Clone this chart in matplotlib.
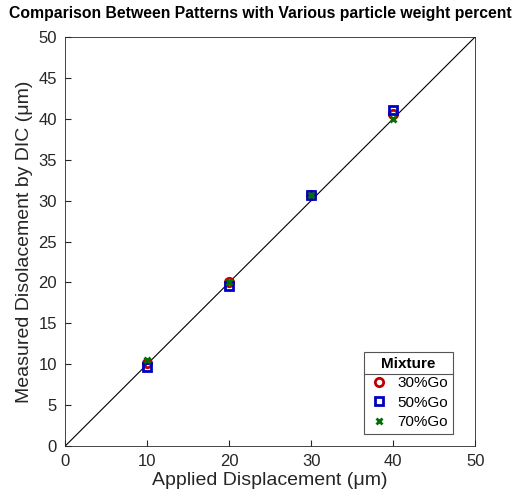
import matplotlib.pyplot as plt
from matplotlib.lines import Line2D
import numpy as np

plt.rcParams['font.family'] = ['Liberation Sans', 'DejaVu Sans']

applied = [10, 20, 30, 40]
go30 = [10.1, 20.1, 30.7, 40.6]
go50 = [9.7, 19.6, 30.7, 41.1]
go70 = [10.5, 20.0, 30.7, 40.0]
ref_line = [0, 50]

fig = plt.figure(figsize=(5.21, 4.99), dpi=100)
ax = fig.add_axes([0.125, 0.106, 0.787, 0.82])

ax.plot(ref_line, ref_line, color='black', linewidth=0.8, zorder=1)
ax.plot(applied, go30, 'o', mfc='none', mec='#c00000', mew=2, ms=6, label='30%Go', zorder=3)
ax.plot(applied, go50, 's', mfc='none', mec='#0000c0', mew=2, ms=5.5, label='50%Go', zorder=3)
ax.plot(applied, go70, 'x', color='#007000', mew=2, ms=5, label='70%Go', zorder=3)

ax.set_xlim(0, 50)
ax.set_ylim(0, 50)
ax.set_xticks(np.arange(0, 51, 10))
ax.set_yticks(np.arange(0, 51, 5))
ax.tick_params(direction='in', labelsize=12, colors='#262626', length=4, pad=6)
for s in ax.spines.values():
    s.set_color('#262626')
    s.set_linewidth(0.6)

ax.set_xlabel('Applied Displacement (μm)', fontsize=14, color='#262626', labelpad=2)
ax.set_ylabel('Measured Disolacement by DIC (μm)', fontsize=14, color='#262626', labelpad=4)
fig.text(0.499, 0.972, 'Comparison Between Patterns with Various particle weight percent',
         fontsize=11.3, fontweight='bold', ha='center', va='center')

leg = ax.legend(loc='lower right', title='Mixture', fontsize=11, fancybox=False,
                edgecolor='#555555', framealpha=1, handletextpad=0.5,
                handlelength=1.3, borderaxespad=0, borderpad=0.35,
                labelspacing=0.35, bbox_to_anchor=(0.946, 0.029))
leg.get_title().set_fontweight('bold')
leg.get_title().set_fontsize(11)
leg.get_frame().set_linewidth(0.8)

fig.canvas.draw()
lb = leg.get_window_extent()
tb = leg.get_title().get_window_extent()
yline = tb.y0 - 3
fig.add_artist(Line2D([lb.x0, lb.x1], [yline, yline], transform=None,
                      color='#555555', linewidth=0.8))

fig.savefig('out.png', dpi=100)
